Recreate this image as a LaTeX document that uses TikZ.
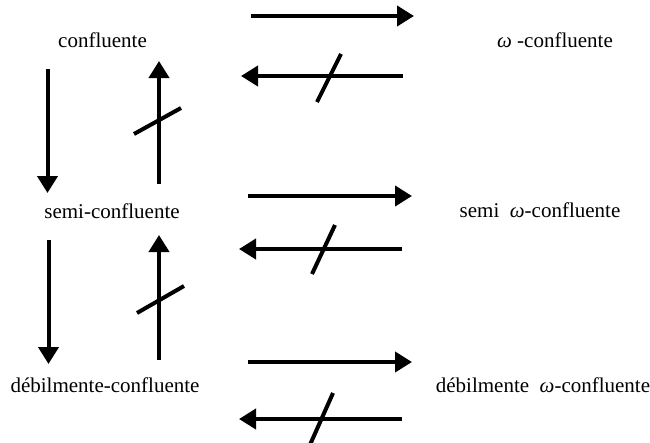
\documentclass[tikz,border=0pt]{standalone}
\usepackage{fontspec}
\setmainfont{Liberation Serif}
\usetikzlibrary{arrows.meta}
\newcommand{\omg}{{\itshape ω}}
\begin{document}
\begin{tikzpicture}[x=1pt,y=-1pt,
  lbl/.style={anchor=base,inner sep=0pt,font=\fontsize{21}{25}\selectfont},
  arr/.style={line width=4pt,-{Triangle[width=20pt,length=17pt]}},
  slash/.style={line width=4pt}]
\useasboundingbox (0,0) rectangle (650,442);
% labels
\node[lbl] (c)  at (102.5,47) {confluente};
\node[lbl] (sc) at (112,218) {semi-confluente};
\node[lbl] (dc) at (105,392) {débilmente-confluente};
\node[lbl] (wc)  at (555,47) {\omg\ -confluente};
\node[lbl] (swc) at (540,217) {semi\ \ \omg-confluente};
\node[lbl] (dwc) at (543,392) {débilmente\ \ \omg-confluente};
% vertical arrows, column 1
\coordinate (d1s) at (47.5,69);  \coordinate (d1e) at (47.5,193);
\coordinate (u1s) at (159,184);  \coordinate (u1e) at (159,61);
\coordinate (k1a) at (134,134);  \coordinate (k1b) at (181,108);
\coordinate (d2s) at (48.5,240); \coordinate (d2e) at (48.5,364);
\coordinate (u2s) at (159,360);  \coordinate (u2e) at (159,235);
\coordinate (k2a) at (137,313);  \coordinate (k2b) at (184,286);
\draw[arr] (d1s) -- (d1e);
\draw[arr] (u1s) -- (u1e);
\draw[slash] (k1a) -- (k1b);
\draw[arr] (d2s) -- (d2e);
\draw[arr] (u2s) -- (u2e);
\draw[slash] (k2a) -- (k2b);
% horizontal arrows
\coordinate (r1s) at (251,16);  \coordinate (r1e) at (414,16);
\coordinate (l1s) at (403,76);  \coordinate (l1e) at (241,76);
\coordinate (h1a) at (317,102); \coordinate (h1b) at (341,54);
\coordinate (r2s) at (248,196); \coordinate (r2e) at (412,196);
\coordinate (l2s) at (402,249); \coordinate (l2e) at (239,249);
\coordinate (h2a) at (312,274); \coordinate (h2b) at (335,225);
\coordinate (r3s) at (248,362); \coordinate (r3e) at (412,362);
\coordinate (l3s) at (402,419); \coordinate (l3e) at (239,419);
\coordinate (h3a) at (309,447); \coordinate (h3b) at (333,393);
\draw[arr] (r1s) -- (r1e);
\draw[arr] (l1s) -- (l1e);
\draw[slash] (h1a) -- (h1b);
\draw[arr] (r2s) -- (r2e);
\draw[arr] (l2s) -- (l2e);
\draw[slash] (h2a) -- (h2b);
\draw[arr] (r3s) -- (r3e);
\draw[arr] (l3s) -- (l3e);
\begin{scope}
\clip (0,0) rectangle (650,442);
\draw[slash] (h3a) -- (h3b);
\end{scope}
\end{tikzpicture}
\end{document}
